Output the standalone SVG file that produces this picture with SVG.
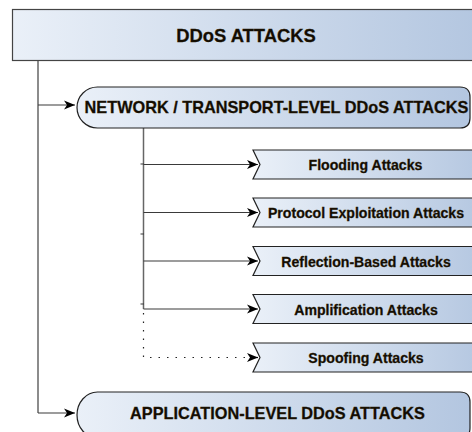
<svg xmlns="http://www.w3.org/2000/svg" width="472" height="432" viewBox="0 0 472 432">
  <defs>
    <linearGradient id="fillBlue" x1="0" y1="0" x2="1" y2="0">
      <stop offset="0" stop-color="#eaf0f8"/>
      <stop offset="1" stop-color="#b3c6e0"/>
    </linearGradient>
    <marker id="arrowHead" markerUnits="userSpaceOnUse" markerWidth="12" markerHeight="11" refX="11" refY="5" orient="auto">
      <path d="M0,0.5 L11,5 L0,9.5 L3,5 Z" fill="#000"/>
    </marker>
    <style>
      .box { fill: url(#fillBlue); stroke: #444; stroke-width: 1.2; }
      .sub { fill: url(#fillBlue); stroke: #222; stroke-width: 1.2; }
      .lbl { font-family: "Liberation Sans", Arial, sans-serif; font-weight: bold; fill: #120c02; stroke: #2a1d05; stroke-width: 0.3; text-anchor: middle; }
      .big { font-size: 18.4px; }
      .mid { font-size: 16.3px; }
      .small { font-size: 14.1px; }
      .wire { fill: none; stroke: #3a3a3a; stroke-width: 1.2; }
      .trunk { fill: none; stroke: #666; stroke-width: 1.5; }
      .dots { fill: none; stroke: #222; stroke-width: 1.2; stroke-dasharray: 1.5 7; }
    </style>
  </defs>

  <!-- connectors -->
  <g id="connectors">
    <path class="trunk" d="M38,60 V413"/>
    <path class="wire" d="M38,105 H75" marker-end="url(#arrowHead)"/>
    <path class="wire" d="M38,413 H75" marker-end="url(#arrowHead)"/>
    <path class="trunk" d="M143.5,128 V309"/>
    <path class="wire" d="M143.5,164.5 H258" marker-end="url(#arrowHead)"/>
    <path class="wire" d="M143.5,212.5 H258" marker-end="url(#arrowHead)"/>
    <path class="wire" d="M143.5,261 H258" marker-end="url(#arrowHead)"/>
    <path class="wire" d="M143.5,309 H258" marker-end="url(#arrowHead)"/>
    <path class="dots" d="M143.5,313 V357"/>
    <path class="dots" d="M150,357.5 H248"/>
    <path fill="none" stroke="#000" stroke-width="1.2" d="M250,357.5 H258" marker-end="url(#arrowHead)"/>
    <path class="wire" d="M140.5,164 H144 M140.5,234 H144 M140.5,304 H144"/>
  </g>

  <!-- root -->
  <g id="root">
    <rect class="box" x="12.5" y="9.5" width="470" height="51"/>
    <text class="lbl big" x="246" y="42">DDoS ATTACKS</text>
  </g>

  <!-- network / transport branch -->
  <g id="network">
    <path class="sub" d="M97.5,87 H460 Q470,87 470,97 V118 Q470,128 460,128 H97.5 A20.5,20.5 0 0 1 97.5,87 Z"/>
    <text class="lbl mid" x="276.5" y="113">NETWORK / TRANSPORT-LEVEL DDoS ATTACKS</text>
  </g>

  <g id="flooding">
    <path class="sub" d="M253,150 H482 L489,164.5 L482,179 H253 L260,164.5 Z"/>
    <text class="lbl small" x="365.5" y="170">Flooding Attacks</text>
  </g>

  <g id="protocol">
    <path class="sub" d="M253,198 H482 L489,212.5 L482,227 H253 L260,212.5 Z"/>
    <text class="lbl small" x="366" y="218">Protocol Exploitation Attacks</text>
  </g>

  <g id="reflection">
    <path class="sub" d="M253,246.5 H482 L489,261 L482,275.5 H253 L260,261 Z"/>
    <text class="lbl small" x="366" y="266.5">Reflection-Based Attacks</text>
  </g>

  <g id="amplification">
    <path class="sub" d="M253,294.5 H482 L489,309 L482,323.5 H253 L260,309 Z"/>
    <text class="lbl small" x="366" y="314.5">Amplification Attacks</text>
  </g>

  <g id="spoofing">
    <path class="sub" d="M253,343 H482 L489,357.5 L482,372 H253 L260,357.5 Z"/>
    <text class="lbl small" x="366" y="363">Spoofing Attacks</text>
  </g>

  <!-- application branch -->
  <g id="application">
    <path class="sub" d="M97.5,392 H460 Q470,392 470,402 V428 Q470,438 460,438 H97.5 A20.5,23 0 0 1 97.5,392 Z"/>
    <text class="lbl mid" x="277.5" y="418.5">APPLICATION-LEVEL DDoS ATTACKS</text>
  </g>
</svg>
